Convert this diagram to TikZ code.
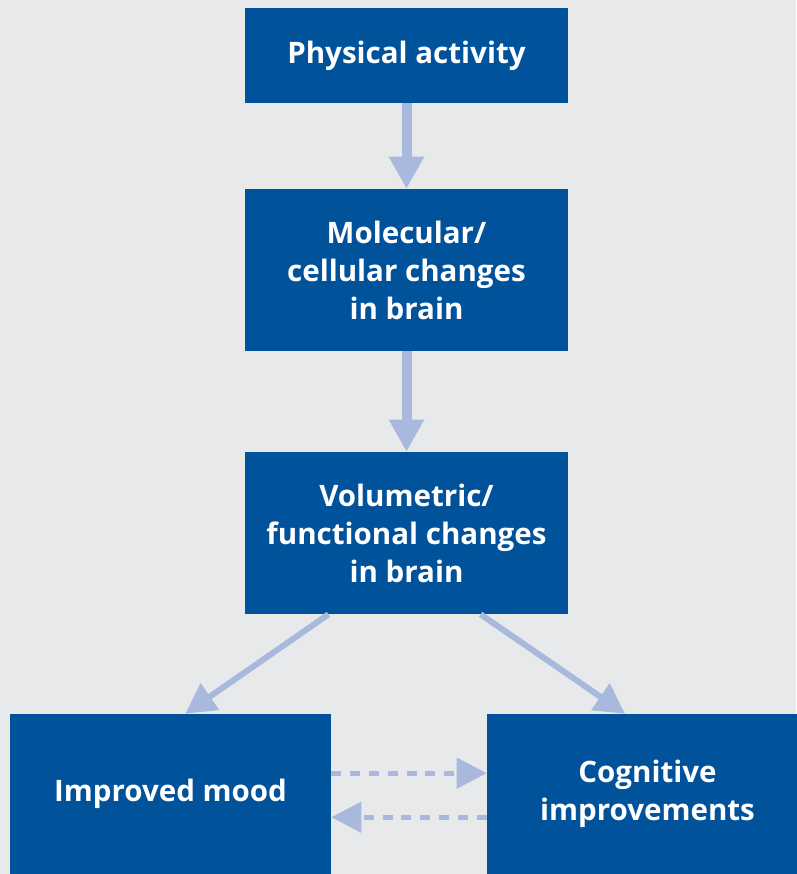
\documentclass[tikz,border=0pt]{standalone}
\usepackage{fontspec}
\setmainfont{Open Sans}
\usetikzlibrary{arrows.meta}

\definecolor{boxblue}{RGB}{0,82,155}
\definecolor{arrowblue}{RGB}{168,185,221}
\definecolor{paper}{RGB}{232,233,235}

\tikzset{
  stage/.style={fill=boxblue, text=white, align=center, inner sep=0pt,
    font=\bfseries\fontsize{21}{27}\selectfont},
  flow/.style={draw=arrowblue, line width=0.25cm,
    -{Triangle[width=0.83cm, length=0.8cm]}},
  branch/.style={draw=arrowblue, line width=0.15cm,
    -{Triangle[width=0.78cm, length=0.75cm]}},
  link/.style={draw=arrowblue, line width=0.125cm, dash pattern=on 0.25cm off 0.22cm,
    -{Triangle[width=0.75cm, length=0.75cm]}}
}

\begin{document}
\begin{tikzpicture}[x=0.025cm, y=-0.025cm]
\fill[paper] (0,0) rectangle (796,874);
\useasboundingbox (0,0) rectangle (796,874);
% boxes
\node[stage, minimum width=8.075cm, minimum height=2.375cm] (activity) at (406.5,55.5) {Physical activity};
\node[stage, minimum width=8.075cm, minimum height=4.05cm] (cellular) at (406.5,270) {Molecular/\\cellular changes\\in brain};
\node[stage, minimum width=8.075cm, minimum height=4.05cm] (volume) at (406.5,533) {Volumetric/\\functional changes\\in brain};
\node[stage, minimum width=8.025cm, minimum height=4cm] (mood) at (170.5,794) {Improved mood};
\node[stage, minimum width=8.025cm, minimum height=4cm] (cognition) at (647.5,794) {Cognitive\\improvements};
% arrows
\draw[flow] (activity.south) -- (cellular.north);
\draw[flow] (cellular.south) -- (volume.north);
\draw[branch] ([xshift=-1.95cm]volume.south) -- ([xshift=0.37cm]mood.north);
\draw[branch] ([xshift=1.85cm]volume.south) -- ([xshift=-0.56cm]cognition.north);
\draw[link] ([yshift=0.52cm]mood.east) -- ([yshift=0.52cm]cognition.west);
\draw[link] ([yshift=-0.58cm]cognition.west) -- ([yshift=-0.58cm]mood.east);
\end{tikzpicture}
\end{document}
